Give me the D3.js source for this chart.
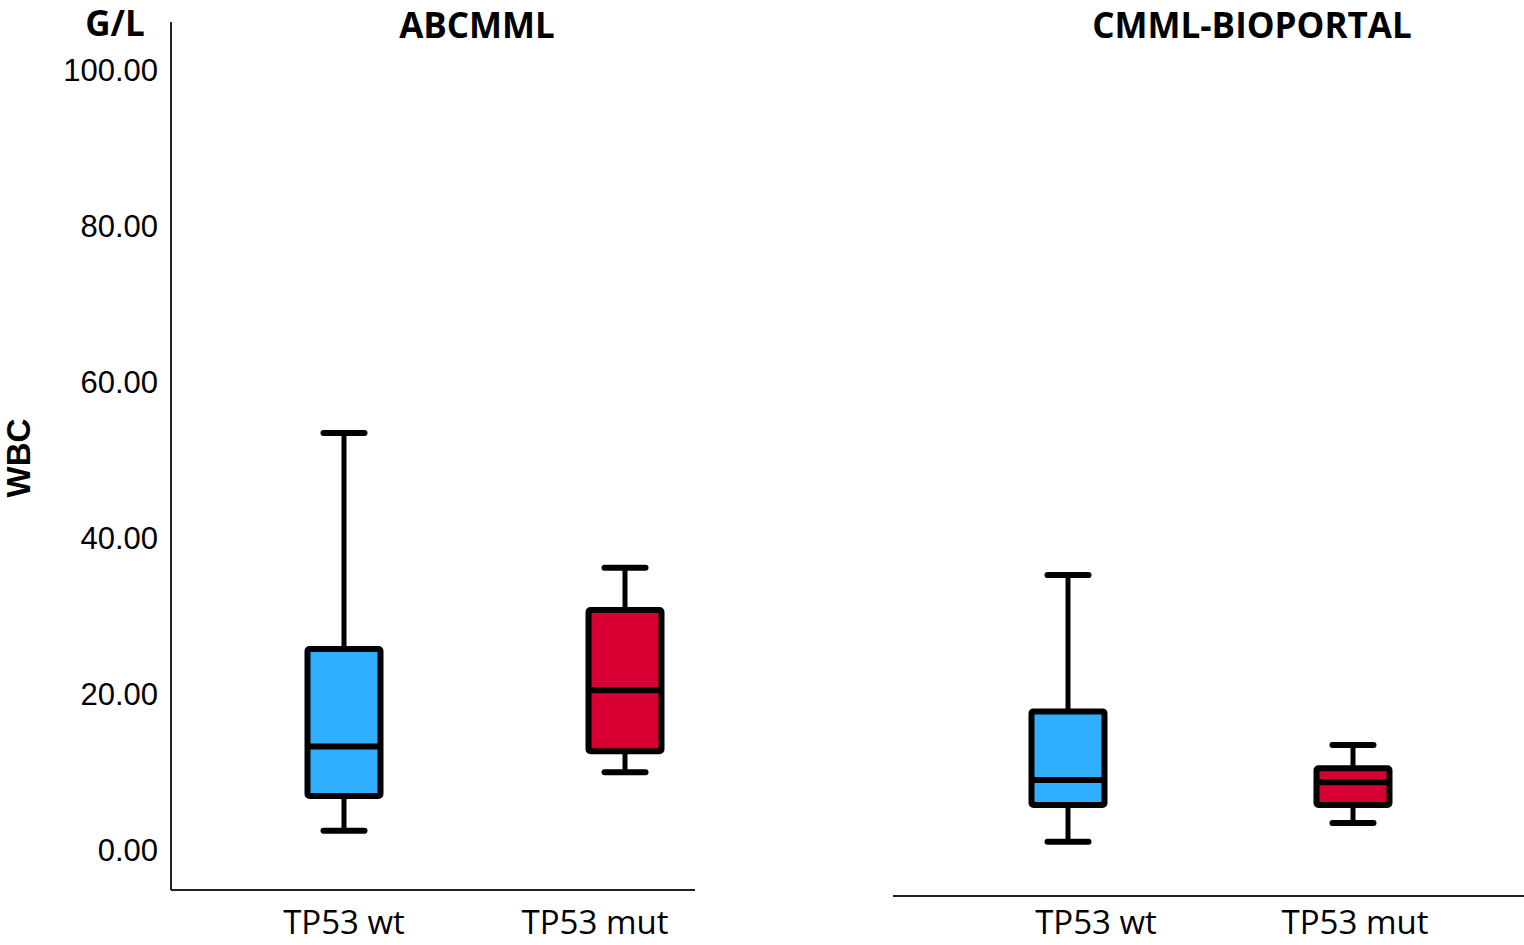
<!DOCTYPE html>
<html>
<head>
<meta charset="utf-8">
<script src="https://cdn.jsdelivr.net/npm/d3@7"></script>
<style>
  body { margin: 0; background: #fff; }
  svg { display: block; }
</style>
</head>
<body>
<script>
// data (WBC, G/L)
var groups = ["TP53 wt", "TP53 mut"];
var cohorts = ["ABCMML", "CMML-BIOPORTAL"];
var whiskerLow  = [[2.6, 10.1], [1.2, 3.6]];
var q1          = [[7.05, 12.8], [5.9, 5.9]];
var medians     = [[13.4, 20.6], [9.1, 8.8]];
var q3          = [[25.9, 30.9], [17.9, 10.6]];
var whiskerHigh = [[53.6, 36.3], [35.4, 13.6]];
var yTicks = [0, 20, 40, 60, 80, 100];
var colors = ["#31afff", "#d80033"];

var W = 1524, H = 945;

var svg = d3.select("body").append("svg")
    .attr("width", W)
    .attr("height", H);

// shared y scale
var y = d3.scaleLinear().domain([0, 100]).range([851, 71]);

// one x scale per panel for boxes, another for the labels (not quite centred in the original)
var xs = [
  d3.scalePoint().domain(groups).range([344, 625]),
  d3.scalePoint().domain(groups).range([1068, 1353])
];
var xl = [
  d3.scalePoint().domain(groups).range([344, 595]),
  d3.scalePoint().domain(groups).range([1096, 1355])
];
var titleX = [477, 1252];
var baseY = [890, 896];
var baseX = [[171, 695], [893, 1524]];

var boxW = 73, capW = 41;

// y axis (left panel only)
var yAxis = svg.append("g").attr("transform", "translate(171,0)")
    .call(d3.axisLeft(y).tickValues(yTicks).tickSize(0).tickPadding(13)
      .tickFormat(d3.format(".2f")));
yAxis.select(".domain").remove();
yAxis.selectAll("text")
    .attr("font-family", "'Liberation Sans', Arial, sans-serif")
    .attr("font-size", 31)
    .attr("fill", "#000");

svg.append("line")
    .attr("x1", 171).attr("x2", 171)
    .attr("y1", 22).attr("y2", 890)
    .attr("stroke", "#222").attr("stroke-width", 2);

svg.append("text")
    .attr("transform", "translate(30,458) rotate(-90)")
    .attr("text-anchor", "middle")
    .attr("font-family", "'Liberation Sans', Arial, sans-serif")
    .attr("font-weight", "bold")
    .attr("font-size", 33)
    .text("WBC");

svg.append("text")
    .attr("x", 115).attr("y", 36)
    .attr("text-anchor", "middle")
    .attr("font-family", "'Open Sans', sans-serif")
    .attr("font-weight", "bold")
    .attr("font-size", 35)
    .text("G/L");

cohorts.forEach(function(name, c) {
  var x = xs[c];
  var g = svg.append("g");

  // baseline of the panel
  g.append("line")
      .attr("x1", baseX[c][0]).attr("x2", baseX[c][1])
      .attr("y1", baseY[c]).attr("y2", baseY[c])
      .attr("stroke", "#222").attr("stroke-width", 2);

  // panel title
  g.append("text")
      .attr("x", titleX[c]).attr("y", 38)
      .attr("text-anchor", "middle")
      .attr("font-family", "'Open Sans', sans-serif")
      .attr("font-weight", "bold")
      .attr("font-size", 35)
      .text(name);

  // category labels
  g.selectAll(".cat")
    .data(groups)
    .enter().append("text")
      .attr("class", "cat")
      .attr("x", function(d) { return xl[c](d); })
      .attr("y", 934)
      .attr("text-anchor", "middle")
      .attr("font-family", "'Open Sans', sans-serif")
      .attr("font-size", 33)
      .text(function(d) { return d; });

  var boxes = g.selectAll(".box")
    .data(groups)
    .enter().append("g")
      .attr("class", "box");

  // whisker stems
  boxes.append("line")
      .attr("x1", function(d) { return x(d); })
      .attr("x2", function(d) { return x(d); })
      .attr("y1", function(d, i) { return y(whiskerHigh[c][i]); })
      .attr("y2", function(d, i) { return y(whiskerLow[c][i]); })
      .attr("stroke", "#000").attr("stroke-width", 5);

  // caps
  [whiskerLow, whiskerHigh].forEach(function(arr) {
    boxes.append("line")
        .attr("x1", function(d) { return x(d) - capW / 2; })
        .attr("x2", function(d) { return x(d) + capW / 2; })
        .attr("y1", function(d, i) { return y(arr[c][i]); })
        .attr("y2", function(d, i) { return y(arr[c][i]); })
        .attr("stroke", "#000").attr("stroke-width", 6)
        .attr("stroke-linecap", "round");
  });

  // box
  boxes.append("rect")
      .attr("x", function(d) { return x(d) - boxW / 2; })
      .attr("width", boxW)
      .attr("y", function(d, i) { return y(q3[c][i]); })
      .attr("height", function(d, i) { return y(q1[c][i]) - y(q3[c][i]); })
      .attr("rx", 2)
      .attr("fill", function(d, i) { return colors[i]; })
      .attr("stroke", "#000").attr("stroke-width", 6)
      .attr("stroke-linejoin", "round");

  // median
  boxes.append("line")
      .attr("x1", function(d) { return x(d) - boxW / 2; })
      .attr("x2", function(d) { return x(d) + boxW / 2; })
      .attr("y1", function(d, i) { return y(medians[c][i]); })
      .attr("y2", function(d, i) { return y(medians[c][i]); })
      .attr("stroke", "#000").attr("stroke-width", 6);
});
</script>
</body>
</html>
